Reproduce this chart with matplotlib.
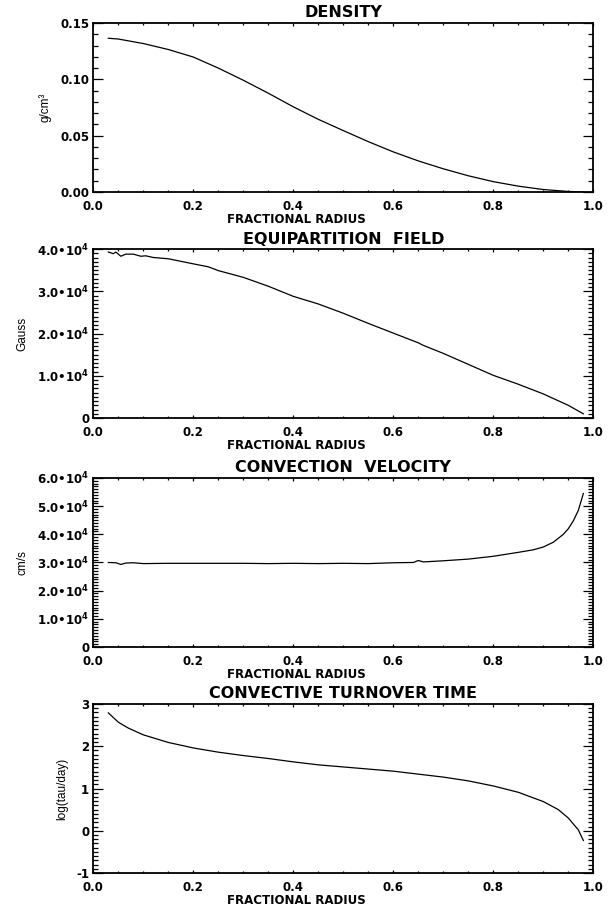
import matplotlib
matplotlib.use('Agg')
import matplotlib.pyplot as plt
from matplotlib.ticker import MultipleLocator

plt.rcParams['font.family'] = ['DejaVu Sans']
plt.rcParams['mathtext.fontset'] = 'custom'
plt.rcParams['mathtext.rm'] = 'DejaVu Sans:bold'
plt.rcParams['mathtext.bf'] = 'DejaVu Sans:bold'
plt.rcParams['mathtext.it'] = 'DejaVu Sans:bold'

# densidade (g/cm^3)
r_dens = [0.03, 0.05, 0.10, 0.15, 0.20, 0.25, 0.30, 0.35, 0.40, 0.45, 0.50,
          0.55, 0.60, 0.65, 0.70, 0.75, 0.80, 0.85, 0.90, 0.95, 0.98]
density = [0.1365, 0.1358, 0.1318, 0.1265, 0.1198, 0.1100, 0.0992, 0.0877,
           0.0756, 0.0645, 0.0545, 0.0447, 0.0356, 0.0276, 0.0206, 0.0144,
           0.0092, 0.0052, 0.0022, 0.0005, 0.0]

# campo de equiparticao (Gauss)
r_field = [0.03, 0.04, 0.045, 0.055, 0.065, 0.08, 0.095, 0.105, 0.12, 0.15,
           0.20, 0.23, 0.25, 0.30, 0.35, 0.40, 0.45, 0.50, 0.55, 0.60, 0.65,
           0.66, 0.70, 0.75, 0.80, 0.85, 0.90, 0.95, 0.98]
field = [3.93e4, 3.89e4, 3.93e4, 3.83e4, 3.88e4, 3.88e4, 3.83e4, 3.84e4,
         3.80e4, 3.77e4, 3.65e4, 3.58e4, 3.49e4, 3.33e4, 3.12e4, 2.88e4,
         2.70e4, 2.48e4, 2.24e4, 2.01e4, 1.78e4, 1.72e4, 1.53e4, 1.27e4,
         1.01e4, 0.80e4, 0.57e4, 0.30e4, 0.10e4]

# velocidade convectiva (cm/s)
r_vel = [0.03, 0.045, 0.055, 0.065, 0.08, 0.10, 0.15, 0.20, 0.25, 0.30, 0.35,
         0.40, 0.45, 0.50, 0.55, 0.60, 0.64, 0.65, 0.66, 0.70, 0.75, 0.80,
         0.85, 0.88, 0.90, 0.92, 0.94, 0.95, 0.96, 0.97, 0.98]
velocity = [3.00e4, 2.99e4, 2.93e4, 2.98e4, 2.99e4, 2.96e4, 2.97e4, 2.97e4,
            2.97e4, 2.97e4, 2.96e4, 2.97e4, 2.96e4, 2.97e4, 2.96e4, 2.99e4,
            3.00e4, 3.07e4, 3.02e4, 3.06e4, 3.12e4, 3.22e4, 3.36e4, 3.45e4,
            3.55e4, 3.72e4, 4.00e4, 4.20e4, 4.48e4, 4.85e4, 5.45e4]

# tempo de turnover convectivo, log(tau/day)
r_tau = [0.03, 0.05, 0.07, 0.10, 0.15, 0.20, 0.25, 0.30, 0.35, 0.40, 0.45,
         0.50, 0.60, 0.70, 0.75, 0.80, 0.85, 0.90, 0.93, 0.95, 0.97, 0.98]
log_tau = [2.79, 2.57, 2.43, 2.27, 2.09, 1.96, 1.86, 1.78, 1.71, 1.63, 1.56,
           1.51, 1.41, 1.27, 1.18, 1.06, 0.91, 0.69, 0.50, 0.30, 0.02, -0.23]

x_ticks = [0.0, 0.2, 0.4, 0.6, 0.8, 1.0]
x_labels = ['0.0', '0.2', '0.4', '0.6', '0.8', '1.0']
dens_ticks = [0.0, 0.05, 0.10, 0.15]
dens_labels = ['0.00', '0.05', '0.10', '0.15']
field_ticks = [0, 1e4, 2e4, 3e4, 4e4]
field_labels = ['0', '1.0•10$^{4}$', '2.0•10$^{4}$', '3.0•10$^{4}$', '4.0•10$^{4}$']
vel_ticks = [0, 1e4, 2e4, 3e4, 4e4, 5e4, 6e4]
vel_labels = ['0', '1.0•10$^{4}$', '2.0•10$^{4}$', '3.0•10$^{4}$',
              '4.0•10$^{4}$', '5.0•10$^{4}$', '6.0•10$^{4}$']
tau_ticks = [-1, 0, 1, 2, 3]
tau_labels = ['-1', '0', '1', '2', '3']

panels = [
    (r_dens, density, 'DENSITY', 'g/cm³', (0.0, 0.15), dens_ticks, dens_labels, 0.01),
    (r_field, field, 'EQUIPARTITION  FIELD', 'Gauss', (0, 4e4), field_ticks, field_labels, 1000),
    (r_vel, velocity, 'CONVECTION  VELOCITY', 'cm/s', (0, 6e4), vel_ticks, vel_labels, 1000),
    (r_tau, log_tau, 'CONVECTIVE TURNOVER TIME', 'log(tau/day)', (-1, 3), tau_ticks, tau_labels, 0.1),
]
bottoms = [0.7883, 0.5391, 0.2867, 0.0375]

fig = plt.figure(figsize=(6.08, 9.07), dpi=100)

for (x, y, title, ylab, ylim, yt, ytl, yminor), b in zip(panels, bottoms):
    ax = fig.add_axes([0.1535, b, 0.8224, 0.1863])
    ax.plot(x, y, color='black', linewidth=0.9)
    ax.set_xlim(0.0, 1.0)
    ax.set_ylim(*ylim)
    ax.set_xticks(x_ticks)
    ax.set_xticklabels(x_labels, fontsize=8.5, fontweight='bold')
    ax.xaxis.set_minor_locator(MultipleLocator(0.05))
    ax.set_yticks(yt)
    ax.set_yticklabels(ytl, fontsize=8.5, fontweight='bold')
    ax.yaxis.set_minor_locator(MultipleLocator(yminor))
    ax.tick_params(axis='both', which='both', direction='in', top=True, right=True,
                   width=0.9, color='black')
    ax.tick_params(axis='x', which='major', length=2.5, pad=5.5)
    ax.tick_params(axis='x', which='minor', length=1.3)
    ax.tick_params(axis='y', which='major', length=7.2, pad=3)
    ax.tick_params(axis='y', which='minor', length=3.6)
    for s in ax.spines.values():
        s.set_linewidth(1.3)
    ax.set_title(title, fontsize=11.5, fontweight='bold', pad=4)
    ax.set_xlabel('FRACTIONAL RADIUS', fontsize=8.5, fontweight='bold',
                  labelpad=0.3, x=0.406)
    ax.set_ylabel(ylab, fontsize=8.5, family='Liberation Sans', labelpad=6)

plt.savefig('out.png', dpi=100)
